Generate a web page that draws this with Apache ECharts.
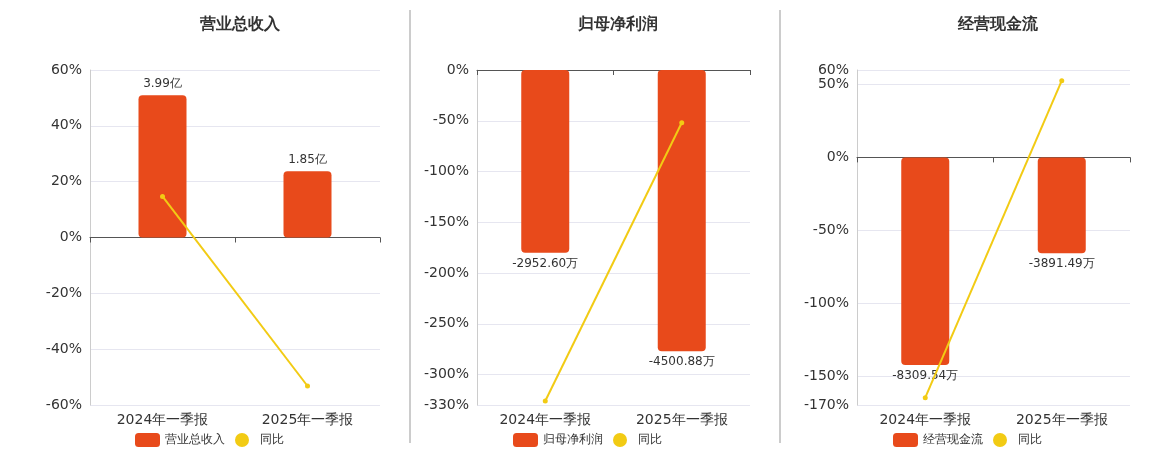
<!DOCTYPE html>
<html><head><meta charset="utf-8">
<script src="https://cdn.jsdelivr.net/npm/echarts@6/dist/echarts.min.js"></script>
<style>html,body{margin:0;background:#fff}#c{width:1160px;height:450px}</style>
</head><body><div id="c"></div>
<script>
const categories = ['2024年一季报', '2025年一季报'];
const titles = ['营业总收入', '归母净利润', '经营现金流'];
const barValues1 = [51, 23.7];
const barLabels1 = ['3.99亿', '1.85亿'];
const lineValues1 = [14.7, -53.2];
const barValues2 = [-180, -277];
const barLabels2 = ['-2952.60万', '-4500.88万'];
const lineValues2 = [-326, -52];
const barValues3 = [-142.5, -65.8];
const barLabels3 = ['-8309.54万', '-3891.49万'];
const lineValues3 = [-165, 52.7];
const yMin = [-60, -330, -170], yMax = [60, 0, 60];
const yTicks = [[-60,-40,-20,0,20,40,60],[-330,-300,-250,-200,-150,-100,-50,0],[-170,-150,-100,-50,0,50,60]];

const bars = [barValues1, barValues2, barValues3];
const barLabels = [barLabels1, barLabels2, barLabels3];
const lines = [lineValues1, lineValues2, lineValues3];
const grids = [{left:90,width:290},{left:477,width:273},{left:857,width:273}];
const centers = [235, 613, 993];
const BAR = '#E84A1B', LINE = '#F2CB14';
const font = 'DejaVu Sans, sans-serif';

const opt = {animation:false, title:[], grid:[], xAxis:[], yAxis:[], series:[], legend:[],
  graphic:[
    {type:'line',shape:{x1:410,y1:10,x2:410,y2:443},style:{stroke:'#999',lineWidth:1}},
    {type:'line',shape:{x1:780,y1:10,x2:780,y2:443},style:{stroke:'#999',lineWidth:1}}
  ]};
for (let i=0;i<3;i++){
  opt.title.push({text:titles[i],left:centers[i],top:12,textAlign:'center',
    textStyle:{fontSize:16,fontWeight:'bold',color:'#333',fontFamily:font}});
  opt.grid.push({left:grids[i].left,width:grids[i].width,top:70,bottom:45});
  opt.xAxis.push({type:'category',gridIndex:i,data:categories,
    axisLine:{onZero:true,lineStyle:{color:'#555'}},axisTick:{show:true,lineStyle:{color:'#555'}},
    axisLabel:{show:false}});
  opt.xAxis.push({type:'category',gridIndex:i,data:categories,position:'bottom',
    axisLine:{show:false},axisTick:{show:false},
    axisLabel:{fontSize:14,color:'#333',fontFamily:font,margin:8}});
  opt.yAxis.push({type:'value',gridIndex:i,min:yMin[i],max:yMax[i],
    axisLine:{show:true,lineStyle:{color:'#ccc'}},axisTick:{show:false},
    axisLabel:{fontSize:14,color:'#333',fontFamily:font,formatter:'{value}%',customValues:yTicks[i]},
    splitLine:{lineStyle:{color:'#e6e6f0'}}});
  opt.series.push({type:'bar',name:titles[i],xAxisIndex:2*i,yAxisIndex:i,data:bars[i],barWidth:48,
    itemStyle:{color:BAR,borderRadius:4},
    label:{show:true,position:i===0?'top':'bottom',fontSize:12,color:'#333',fontFamily:font,
      formatter:p=>barLabels[i][p.dataIndex]}});
  opt.series.push({type:'line',name:'同比',xAxisIndex:2*i,yAxisIndex:i,data:lines[i],
    symbol:'circle',symbolSize:5,lineStyle:{color:LINE,width:2},itemStyle:{color:LINE}});
  opt.legend.push({left:centers[i]-105,top:428,itemWidth:25,itemHeight:14,itemGap:10,
    textStyle:{fontSize:12,color:'#333',fontFamily:font},
    data:[{name:titles[i],icon:'roundRect',itemStyle:{color:BAR}},
          {name:'同比',icon:'circle'}]});
}
// fix legend data to reference series per grid: legend names shared 同比 fine
echarts.init(document.getElementById('c')).setOption(opt);
</script></body></html>
